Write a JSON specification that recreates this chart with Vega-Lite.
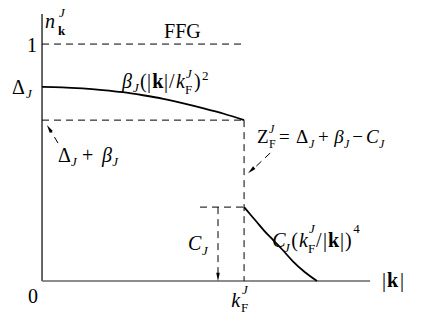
{
  "$schema": "https://vega.github.io/schema/vega-lite/v6.json",
  "width": 436,
  "height": 327,
  "autosize": {"type": "fit", "contains": "padding"},
  "padding": 0,
  "background": "white",
  "config": {"view": {"stroke": null}},
  "datasets": {
    "rules": [
      {"k": 0, "n": 0, "k2": 0, "n2": 1.127, "role": "solid"},
      {"k": 0, "n": 0, "k2": 1.624, "n2": 0, "role": "axis"},
      {"k": 0, "n": 1, "k2": 1.005, "n2": 1, "role": "dash"},
      {"k": 0, "n": 0.679, "k2": 1, "n2": 0.679, "role": "dash"},
      {"k": 1, "n": 0.679, "k2": 1, "n2": 0, "role": "dash"},
      {"k": 0.782, "n": 0.312, "k2": 1, "n2": 0.312, "role": "dash"},
      {"k": 0.871, "n": 0.312, "k2": 0.871, "n2": 0.03, "role": "dash"},
      {"k": 0.079, "n": 0.582, "k2": 0.036, "n2": 0.645, "role": "dash"},
      {"k": 1.129, "n": 0.540, "k2": 1.037, "n2": 0.466, "role": "dash"}
    ],
    "heads": [
      {"k": 0.871, "n": 0.017, "ang": 180},
      {"k": 0.035, "n": 0.644, "ang": 328},
      {"k": 1.035, "n": 0.467, "ang": 228}
    ],
    "curves": [
      {"c": "a", "k": 0, "n": 0.819},
      {"c": "a", "k": 0.1, "n": 0.8176},
      {"c": "a", "k": 0.2, "n": 0.813},
      {"c": "a", "k": 0.3, "n": 0.806},
      {"c": "a", "k": 0.4, "n": 0.797},
      {"c": "a", "k": 0.5, "n": 0.784},
      {"c": "a", "k": 0.6, "n": 0.769},
      {"c": "a", "k": 0.7, "n": 0.75},
      {"c": "a", "k": 0.8, "n": 0.729},
      {"c": "a", "k": 0.9, "n": 0.706},
      {"c": "a", "k": 1.0, "n": 0.679},
      {"c": "b", "k": 1.0, "n": 0.312},
      {"c": "b", "k": 1.03, "n": 0.282},
      {"c": "b", "k": 1.064, "n": 0.248},
      {"c": "b", "k": 1.1, "n": 0.212},
      {"c": "b", "k": 1.144, "n": 0.173},
      {"c": "b", "k": 1.19, "n": 0.132},
      {"c": "b", "k": 1.243, "n": 0.082},
      {"c": "b", "k": 1.3, "n": 0.038},
      {"c": "b", "k": 1.361, "n": 0.0}
    ],
    "labels": [
      {"t": "1", "k": -0.074, "n": 0.966, "role": "r"},
      {"t": "FFG", "k": 0.604, "n": 1.025, "role": "r"},
      {"t": "Δ", "k": -0.149, "n": 0.789, "role": "r"},
      {"t": "(", "k": 0.485, "n": 0.814, "role": "r"},
      {"t": "|", "k": 0.52, "n": 0.814, "role": "r"},
      {"t": "|", "k": 0.604, "n": 0.814, "role": "r"},
      {"t": "/", "k": 0.629, "n": 0.814, "role": "r"},
      {"t": ")", "k": 0.752, "n": 0.814, "role": "r"},
      {"t": "Δ", "k": 0.079, "n": 0.502, "role": "r"},
      {"t": "+", "k": 0.198, "n": 0.502, "role": "r"},
      {"t": "(", "k": 1.233, "n": 0.143, "role": "r"},
      {"t": "/", "k": 1.356, "n": 0.143, "role": "r"},
      {"t": "|", "k": 1.391, "n": 0.143, "role": "r"},
      {"t": "|", "k": 1.475, "n": 0.143, "role": "r"},
      {"t": ")", "k": 1.5, "n": 0.143, "role": "r"},
      {"t": "|", "k": 1.683, "n": -0.025, "role": "r"},
      {"t": "|", "k": 1.772, "n": -0.025, "role": "r"},
      {"t": "0", "k": -0.069, "n": -0.093, "role": "r"},
      {"t": "n", "k": 0.015, "n": 1.068, "role": "i"},
      {"t": "β", "k": 0.396, "n": 0.814, "role": "i"},
      {"t": "k", "k": 0.663, "n": 0.814, "role": "i"},
      {"t": "β", "k": 0.297, "n": 0.502, "role": "i"},
      {"t": "C", "k": 0.723, "n": 0.131, "role": "i"},
      {"t": "C", "k": 1.139, "n": 0.143, "role": "i"},
      {"t": "k", "k": 1.272, "n": 0.143, "role": "i"},
      {"t": "k", "k": 0.936, "n": -0.11, "role": "i"},
      {"t": "k", "k": 0.545, "n": 0.814, "role": "b"},
      {"t": "k", "k": 1.416, "n": 0.143, "role": "b"},
      {"t": "k", "k": 1.708, "n": -0.025, "role": "b"},
      {"t": "J", "k": 0.084, "n": 1.114, "role": "is"},
      {"t": "J", "k": -0.079, "n": 0.772, "role": "is"},
      {"t": "J", "k": 0.45, "n": 0.797, "role": "is"},
      {"t": "J", "k": 0.713, "n": 0.857, "role": "is"},
      {"t": "J", "k": 0.144, "n": 0.485, "role": "is"},
      {"t": "J", "k": 0.347, "n": 0.485, "role": "is"},
      {"t": "J", "k": 0.792, "n": 0.11, "role": "is"},
      {"t": "J", "k": 1.198, "n": 0.122, "role": "is"},
      {"t": "J", "k": 1.322, "n": 0.203, "role": "is"},
      {"t": "J", "k": 0.99, "n": -0.055, "role": "is"},
      {"t": "F", "k": 0.708, "n": 0.789, "role": "rs"},
      {"t": "2", "k": 0.792, "n": 0.848, "role": "rs"},
      {"t": "F", "k": 1.317, "n": 0.118, "role": "rs"},
      {"t": "4", "k": 1.54, "n": 0.203, "role": "rs"},
      {"t": "F", "k": 0.985, "n": -0.131, "role": "rs"},
      {"t": "k", "k": 0.079, "n": 1.038, "role": "bs"},
      {"t": "Z", "k": 1.064, "n": 0.582, "role": "er"},
      {"t": "=", "k": 1.173, "n": 0.582, "role": "er"},
      {"t": "Δ", "k": 1.257, "n": 0.582, "role": "er"},
      {"t": "+", "k": 1.366, "n": 0.582, "role": "er"},
      {"t": "−", "k": 1.535, "n": 0.582, "role": "er"},
      {"t": "β", "k": 1.446, "n": 0.582, "role": "ei"},
      {"t": "C", "k": 1.604, "n": 0.582, "role": "ei"},
      {"t": "J", "k": 1.124, "n": 0.624, "role": "eis"},
      {"t": "J", "k": 1.322, "n": 0.561, "role": "eis"},
      {"t": "J", "k": 1.495, "n": 0.561, "role": "eis"},
      {"t": "J", "k": 1.668, "n": 0.561, "role": "eis"},
      {"t": "F", "k": 1.124, "n": 0.561, "role": "ers"}
    ]
  },
  "encoding": {
    "x": {"field": "k", "type": "quantitative", "scale": {"domain": [-0.208, 1.95], "nice": false, "zero": false}, "axis": null},
    "y": {"field": "n", "type": "quantitative", "scale": {"domain": [-0.194, 1.186], "nice": false, "zero": false}, "axis": null}
  },
  "layer": [
    {"data": {"name": "rules"}, "transform": [{"filter": "datum.role === 'solid'"}],
     "mark": {"type": "rule", "color": "black", "strokeWidth": 1.2},
     "encoding": {"x2": {"field": "k2"}, "y2": {"field": "n2"}}},
    {"data": {"name": "rules"}, "transform": [{"filter": "datum.role === 'axis'"}],
     "mark": {"type": "rule", "color": "#666666", "strokeWidth": 1.6},
     "encoding": {"x2": {"field": "k2"}, "y2": {"field": "n2"}}},
    {"data": {"name": "rules"}, "transform": [{"filter": "datum.role === 'dash'"}],
     "mark": {"type": "rule", "color": "black", "strokeWidth": 1, "strokeDash": [7, 5]},
     "encoding": {"x2": {"field": "k2"}, "y2": {"field": "n2"}}},
    {"data": {"name": "curves"},
     "mark": {"type": "line", "color": "black", "strokeWidth": 1.8, "interpolate": "monotone"},
     "encoding": {"detail": {"field": "c"}, "order": {"field": "k", "type": "quantitative"}}},
    {"data": {"name": "heads"},
     "mark": {"type": "point", "shape": "M0,-1L0.42,1L-0.42,1Z", "filled": true, "color": "black", "opacity": 1, "size": 70},
     "encoding": {"angle": {"field": "ang", "type": "quantitative", "scale": null}}},
    {"data": {"name": "labels"}, "transform": [{"filter": "datum.role === 'r'"}],
     "mark": {"type": "text", "font": "Liberation Serif", "fontSize": 20, "align": "left", "baseline": "alphabetic", "color": "black"},
     "encoding": {"text": {"field": "t"}}},
    {"data": {"name": "labels"}, "transform": [{"filter": "datum.role === 'i'"}],
     "mark": {"type": "text", "font": "Liberation Serif", "fontStyle": "italic", "fontSize": 20, "align": "left", "baseline": "alphabetic", "color": "black"},
     "encoding": {"text": {"field": "t"}}},
    {"data": {"name": "labels"}, "transform": [{"filter": "datum.role === 'b'"}],
     "mark": {"type": "text", "font": "Liberation Serif", "fontWeight": "bold", "fontSize": 20, "align": "left", "baseline": "alphabetic", "color": "black"},
     "encoding": {"text": {"field": "t"}}},
    {"data": {"name": "labels"}, "transform": [{"filter": "datum.role === 'is'"}],
     "mark": {"type": "text", "font": "Liberation Serif", "fontStyle": "italic", "fontSize": 13, "align": "left", "baseline": "alphabetic", "color": "black"},
     "encoding": {"text": {"field": "t"}}},
    {"data": {"name": "labels"}, "transform": [{"filter": "datum.role === 'rs'"}],
     "mark": {"type": "text", "font": "Liberation Serif", "fontSize": 13, "align": "left", "baseline": "alphabetic", "color": "black"},
     "encoding": {"text": {"field": "t"}}},
    {"data": {"name": "labels"}, "transform": [{"filter": "datum.role === 'bs'"}],
     "mark": {"type": "text", "font": "Liberation Serif", "fontWeight": "bold", "fontSize": 13, "align": "left", "baseline": "alphabetic", "color": "black"},
     "encoding": {"text": {"field": "t"}}},
    {"data": {"name": "labels"}, "transform": [{"filter": "datum.role === 'er'"}],
     "mark": {"type": "text", "font": "Liberation Serif", "fontSize": 19, "align": "left", "baseline": "alphabetic", "color": "black"},
     "encoding": {"text": {"field": "t"}}},
    {"data": {"name": "labels"}, "transform": [{"filter": "datum.role === 'ei'"}],
     "mark": {"type": "text", "font": "Liberation Serif", "fontStyle": "italic", "fontSize": 19, "align": "left", "baseline": "alphabetic", "color": "black"},
     "encoding": {"text": {"field": "t"}}},
    {"data": {"name": "labels"}, "transform": [{"filter": "datum.role === 'eis'"}],
     "mark": {"type": "text", "font": "Liberation Serif", "fontStyle": "italic", "fontSize": 12, "align": "left", "baseline": "alphabetic", "color": "black"},
     "encoding": {"text": {"field": "t"}}},
    {"data": {"name": "labels"}, "transform": [{"filter": "datum.role === 'ers'"}],
     "mark": {"type": "text", "font": "Liberation Serif", "fontSize": 12, "align": "left", "baseline": "alphabetic", "color": "black"},
     "encoding": {"text": {"field": "t"}}}
  ]
}
